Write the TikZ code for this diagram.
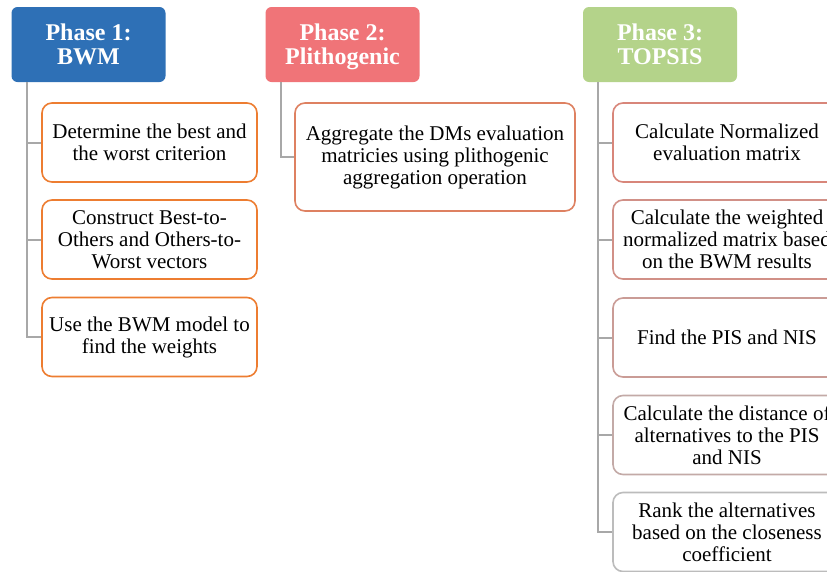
\documentclass[tikz,border=0pt]{standalone}
\usepackage{fontspec}
\setmainfont{Liberation Serif}
\definecolor{pblue}{HTML}{2E70B6}
\definecolor{ppink}{HTML}{F07478}
\definecolor{pgreen}{HTML}{B4D38A}
\definecolor{borA}{HTML}{ED7D31}
\definecolor{borB}{HTML}{DE8161}
\definecolor{c1}{HTML}{D8867A}
\definecolor{c2}{HTML}{D19087}
\definecolor{c3}{HTML}{CA9C96}
\definecolor{c4}{HTML}{C3AAA7}
\definecolor{c5}{HTML}{BCBCBC}
\definecolor{lgray}{HTML}{A8A8A8}
\begin{document}
\begin{tikzpicture}[x=1pt,y=-1pt,
  header/.style={rounded corners=6pt,draw=none,text=white,font=\fontsize{24}{24}\selectfont\bfseries,align=center,minimum width=154pt,minimum height=75pt,inner sep=0pt},
  stepbox/.style={rounded corners=10pt,draw,line width=1.6pt,fill=white,align=center,font=\fontsize{21}{22}\selectfont,inner sep=0pt,minimum height=79pt},
  link/.style={draw=lgray,line width=2pt}]
\useasboundingbox (0,0) rectangle (827,571);
\begin{scope}
\clip (0,0) rectangle (827,571);
% Phase 1
\node[header,fill=pblue] (h1) at (88.5,44.5) {Phase 1:\\BWM};
\node[stepbox,draw=borA,minimum width=215pt] (a1) at (149.5,142.5) {Determine the best and\\the worst criterion};
\node[stepbox,draw=borA,minimum width=215pt] (a2) at (149.5,239.5) {Construct Best-to-\\Others and Others-to-\\Worst vectors};
\node[stepbox,draw=borA,minimum width=215pt] (a3) at (149.5,337) {Use the BWM model to\\find the weights};
\coordinate (t1) at (27,82);
\draw[link] (t1) |- (a1.west);
\draw[link] (t1) |- (a2.west);
\draw[link] (t1) |- (a3.west);
% Phase 2
\node[header,fill=ppink] (h2) at (342.5,44.5) {Phase 2:\\\raisebox{0pt}[\height][0pt]{Plithogenic}};
\node[stepbox,draw=borB,minimum width=280pt,minimum height=108pt] (b1) at (435,157) {Aggregate the DMs evaluation\\matricies using plithogenic\\aggregation operation};
\coordinate (t2) at (281,82);
\draw[link] (t2) |- (b1.west);
% Phase 3
\node[header,fill=pgreen] (h3) at (660,44.5) {Phase 3:\\TOPSIS};
\node[stepbox,draw=c1,minimum width=228pt] (c1n) at (727,142.5) {Calculate Normalized\\evaluation matrix};
\node[stepbox,draw=c2,minimum width=228pt] (c2n) at (727,239.5) {Calculate the weighted\\normalized matrix based\\on the BWM results};
\node[stepbox,draw=c3,minimum width=228pt] (c3n) at (727,337.5) {Find the PIS and NIS};
\node[stepbox,draw=c4,minimum width=228pt] (c4n) at (727,435) {Calculate the distance of\\alternatives to the PIS\\and NIS};
\node[stepbox,draw=c5,minimum width=228pt] (c5n) at (727,532) {Rank the alternatives\\based on the closeness\\coefficient};
\coordinate (t3) at (598,82);
\draw[link] (t3) |- (c1n.west);
\draw[link] (t3) |- (c2n.west);
\draw[link] (t3) |- (c3n.west);
\draw[link] (t3) |- (c4n.west);
\draw[link] (t3) |- (c5n.west);
\end{scope}
\end{tikzpicture}
\end{document}
